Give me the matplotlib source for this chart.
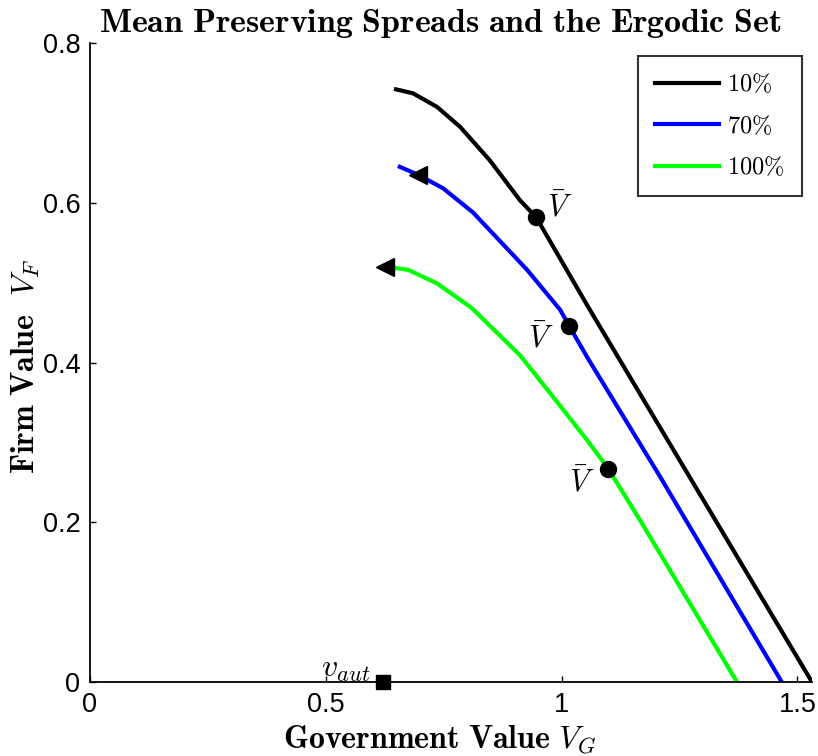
import matplotlib
matplotlib.use("Agg")
import matplotlib.pyplot as plt
from matplotlib.ticker import FormatStrFormatter

pct_labels = ['10\\%', '70\\%', '100\\%']

vg_10 = [0.649, 0.685, 0.736, 0.785, 0.848, 0.912, 0.946, 1.060, 1.531]
vf_10 = [0.742, 0.737, 0.720, 0.695, 0.653, 0.603, 0.582, 0.466, 0.0]

vg_70 = [0.657, 0.696, 0.749, 0.812, 0.927, 0.997, 1.016, 1.054, 1.209, 1.467]
vf_70 = [0.645, 0.635, 0.618, 0.588, 0.516, 0.466, 0.446, 0.407, 0.257, 0.0]

vg_100 = [0.640, 0.675, 0.736, 0.810, 0.912, 0.982, 1.054, 1.099, 1.166, 1.372]
vf_100 = [0.519, 0.516, 0.499, 0.468, 0.409, 0.357, 0.303, 0.267, 0.203, 0.0]

vbar_g = [0.946, 1.016, 1.099]
vbar_f = [0.582, 0.446, 0.267]

arrow_g = [0.696, 0.626]
arrow_f = [0.635, 0.519]

v_aut = 0.621

plt.rcParams['font.family'] = ['Liberation Sans', 'DejaVu Sans']
plt.rcParams['mathtext.fontset'] = 'cm'

fig = plt.figure(figsize=(8.18, 7.56), dpi=100)
ax = fig.add_axes([0.110, 0.0979, 0.8826, 0.8452])

ax.plot(vg_10, vf_10, color='black', lw=3, label='$' + pct_labels[0] + '$')
ax.plot(vg_70, vf_70, color='#0000ff', lw=3, label='$' + pct_labels[1] + '$')
ax.plot(vg_100, vf_100, color='#00ff00', lw=3, label='$' + pct_labels[2] + '$')

ax.plot(vbar_g, vbar_f, 'o', color='black', ms=11.5, zorder=5)
ax.plot(arrow_g, arrow_f, '<', color='black', ms=13, zorder=5)
ax.plot([v_aut], [0], 's', color='black', ms=10.5, zorder=6, clip_on=False)

ax.text(0.969, 0.593, r'$\bar{V}$', fontsize=22, ha='left', va='center')
ax.text(0.984, 0.429, r'$\bar{V}$', fontsize=22, ha='right', va='center')
ax.text(1.071, 0.249, r'$\bar{V}$', fontsize=22, ha='right', va='center')
ax.text(0.594, -0.003, r'$v_{aut}$', fontsize=23, ha='right', va='bottom')

ax.set_xlim(0, 1.531)
ax.set_ylim(0, 0.8)
ax.set_xticks([0, 0.5, 1, 1.5])
ax.set_yticks([0, 0.2, 0.4, 0.6, 0.8])
ax.xaxis.set_major_formatter(FormatStrFormatter('%g'))
ax.yaxis.set_major_formatter(FormatStrFormatter('%g'))
ax.tick_params(direction='in', length=4, width=1, labelsize=19.5, pad=7)
ax.spines['top'].set_visible(False)
ax.spines['right'].set_visible(False)
ax.spines['left'].set_linewidth(1.3)
ax.spines['bottom'].set_linewidth(1.3)

ax.set_title(r'$\mathbf{Mean\ Preserving\ Spreads\ and\ the\ Ergodic\ Set}$',
             fontsize=24.4, pad=8, x=0.485)
ax.set_xlabel(r'$\mathbf{Government\ Value}\ V_G$', fontsize=23, labelpad=4)
ax.xaxis.set_label_coords(0.485, -0.064)
ax.set_ylabel(r'$\mathbf{Firm\ Value}\ \ V_F$', fontsize=23, labelpad=1)
ax.yaxis.set_label_coords(-0.066, 0.494)

leg = ax.legend(loc='upper right', fontsize=17.5, frameon=True, fancybox=False,
                edgecolor='black', handlelength=2.65, handletextpad=0.35,
                borderpad=0.7, labelspacing=0.72, borderaxespad=0,
                bbox_to_anchor=(0.986, 0.980))
leg.get_frame().set_linewidth(1.5)

plt.savefig('out.png', dpi=100)
